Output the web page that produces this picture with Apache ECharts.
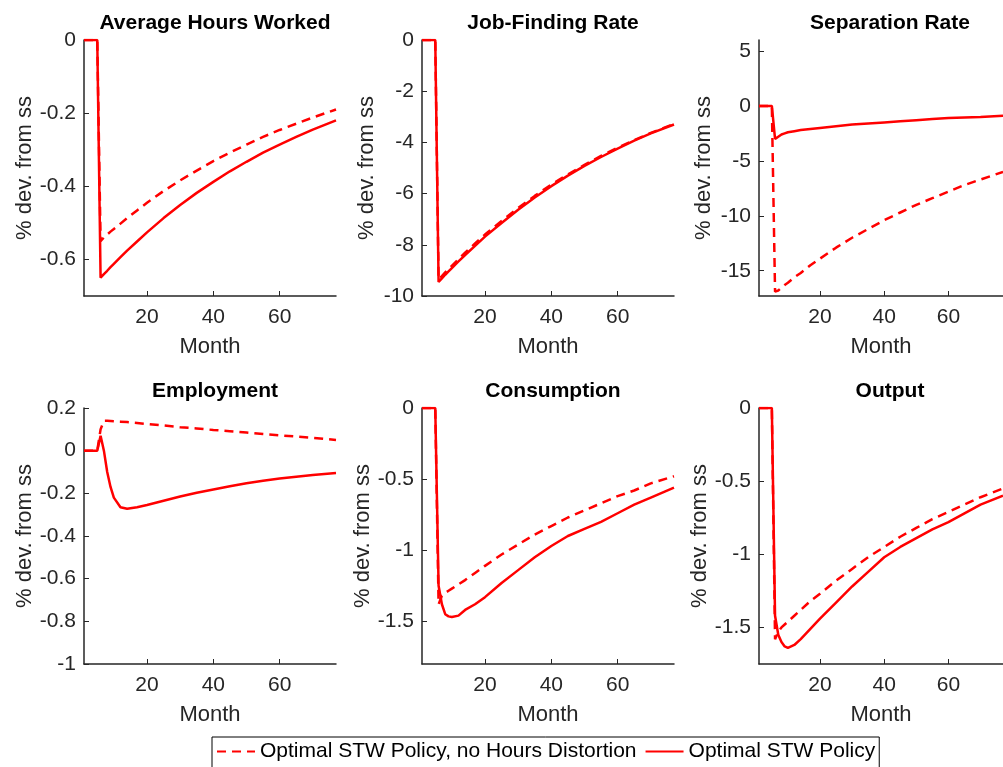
<!DOCTYPE html>
<html><head><meta charset="utf-8">
<script src="https://cdn.jsdelivr.net/npm/echarts@6/dist/echarts.min.js"></script>
<style>html,body{margin:0;padding:0;background:#fff}#c{width:1003px;height:767px}</style>
</head><body><div id="c"></div>
<script>
const months = [1,5,6,7,8,9,10,12,14,17,20,25,30,35,40,45,50,55,60,65,70,77];
const titles = ["Average Hours Worked","Job-Finding Rate","Separation Rate","Employment","Consumption","Output"];
const seriesNames = ["Optimal STW Policy, no Hours Distortion","Optimal STW Policy"];

const hoursSolid  = [0,0,-0.65,-0.640,-0.631,-0.621,-0.612,-0.594,-0.576,-0.551,-0.526,-0.487,-0.451,-0.418,-0.388,-0.359,-0.333,-0.308,-0.286,-0.265,-0.245,-0.220];
const hoursDashed = [0,0,-0.55,-0.540,-0.532,-0.524,-0.517,-0.502,-0.487,-0.466,-0.445,-0.413,-0.384,-0.357,-0.331,-0.308,-0.286,-0.265,-0.246,-0.229,-0.212,-0.190];
const jobSolid    = [0,0,-9.45,-9.31,-9.17,-9.04,-8.91,-8.65,-8.40,-8.04,-7.68,-7.15,-6.63,-6.15,-5.71,-5.30,-4.92,-4.57,-4.24,-3.93,-3.65,-3.30];
const jobDashed   = [0,0,-9.35,-9.22,-9.08,-8.95,-8.82,-8.56,-8.31,-7.95,-7.60,-7.07,-6.56,-6.09,-5.65,-5.25,-4.88,-4.53,-4.21,-3.91,-3.63,-3.28];
const sepSolid    = [0,0,-3.0,-2.8,-2.6,-2.5,-2.4,-2.3,-2.2,-2.1,-2.0,-1.85,-1.7,-1.6,-1.5,-1.4,-1.3,-1.2,-1.1,-1.05,-1.0,-0.9];
const sepDashed   = [0,0,-16.9,-16.8,-16.55,-16.3,-16.1,-15.6,-15.2,-14.5,-13.9,-12.9,-12.0,-11.2,-10.4,-9.7,-9.0,-8.4,-7.8,-7.2,-6.7,-6.0];
const empSolid    = [0,0,0.07,0.0,-0.10,-0.17,-0.22,-0.265,-0.272,-0.265,-0.255,-0.235,-0.215,-0.197,-0.182,-0.167,-0.153,-0.141,-0.131,-0.122,-0.114,-0.105];
const empDashed   = [0,0,0.10,0.14,0.140,0.139,0.138,0.136,0.134,0.130,0.125,0.118,0.110,0.104,0.097,0.091,0.085,0.078,0.072,0.066,0.060,0.050];
const consSolid   = [0,0,-1.25,-1.38,-1.45,-1.465,-1.47,-1.46,-1.42,-1.38,-1.33,-1.23,-1.14,-1.05,-0.97,-0.90,-0.85,-0.80,-0.74,-0.68,-0.63,-0.56];
const consDashed  = [0,0,-1.38,-1.32,-1.30,-1.285,-1.27,-1.24,-1.21,-1.16,-1.11,-1.03,-0.96,-0.89,-0.83,-0.77,-0.72,-0.67,-0.62,-0.58,-0.53,-0.48];
const outSolid    = [0,0,-1.42,-1.55,-1.60,-1.63,-1.64,-1.62,-1.58,-1.51,-1.44,-1.33,-1.22,-1.12,-1.02,-0.95,-0.89,-0.83,-0.78,-0.72,-0.66,-0.60];
const outDashed   = [0,0,-1.58,-1.53,-1.50,-1.48,-1.46,-1.42,-1.38,-1.32,-1.27,-1.18,-1.10,-1.02,-0.95,-0.88,-0.82,-0.76,-0.71,-0.66,-0.61,-0.55];

const solids  = [hoursSolid, jobSolid, sepSolid, empSolid, consSolid, outSolid];
const dashes  = [hoursDashed, jobDashed, sepDashed, empDashed, consDashed, outDashed];
const yMin = [-0.7,-10,-17.3,-1,-1.8,-1.75];
const yMax = [0,0,6,0.2,0,0];
const yTicks = [[-0.6,-0.4,-0.2,0],[-10,-8,-6,-4,-2,0],[-15,-10,-5,0,5],[-1,-0.8,-0.6,-0.4,-0.2,0,0.2],[-1.5,-1,-0.5,0],[-1.5,-1,-0.5,0]];
const xTicks = [20,40,60];

const lefts = [84,422,759], tops = [40,408];
const txt = '#262626', font = 'Liberation Sans';
const grid=[], xAxis=[], yAxis=[], series=[], title=[];
for (let i=0;i<6;i++){
  const c=i%3, r=Math.floor(i/3);
  grid.push({left:lefts[c], top:tops[r], width:252, height:256});
  title.push({text:titles[i], left:lefts[c]+126, top:tops[r]-32, textAlign:'center',
    textStyle:{fontFamily:font,fontSize:21,fontWeight:'bold',color:'#000'}});
  xAxis.push({type:'value', gridIndex:i, min:1, max:77, name:'Month', nameLocation:'middle', nameGap:40,
    nameTextStyle:{fontFamily:font,fontSize:22,color:txt},
    axisLine:{onZero:false,lineStyle:{color:txt,width:1.5}}, splitLine:{show:false},
    axisTick:{inside:true,length:5,customValues:xTicks,lineStyle:{color:txt}},
    axisLabel:{customValues:xTicks,fontFamily:font,fontSize:21,color:txt,margin:11}});
  yAxis.push({type:'value', gridIndex:i, min:yMin[i], max:yMax[i], name:'% dev. from ss', nameLocation:'middle', nameGap:44,
    nameTextStyle:{fontFamily:font,fontSize:22,color:txt},
    axisLine:{show:true,onZero:false,lineStyle:{color:txt,width:1.5}}, splitLine:{show:false},
    axisTick:{show:true,inside:true,length:5,customValues:yTicks[i],lineStyle:{color:txt}},
    axisLabel:{customValues:yTicks[i],fontFamily:font,fontSize:21,color:txt,margin:8}});
  const mk=arr=>arr.map((v,k)=>[months[k],v]);
  series.push({name:seriesNames[0], type:'line', xAxisIndex:i, yAxisIndex:i, data:mk(dashes[i]), showSymbol:false, symbol:'none',
    lineStyle:{color:'#ff0000',width:2.5,type:[9,6]}, itemStyle:{color:'#ff0000'}, z:2});
  series.push({name:seriesNames[1], type:'line', xAxisIndex:i, yAxisIndex:i, data:mk(solids[i]), showSymbol:false, symbol:'none',
    lineStyle:{color:'#ff0000',width:2.5,type:'solid'}, itemStyle:{color:'#ff0000'}, z:3});
}
const chart = echarts.init(document.getElementById('c'));
chart.setOption({
  animation:false, backgroundColor:'#fff', title, grid, xAxis, yAxis, series,
  legend:{data:seriesNames, left:212, top:737, width:760, orient:'horizontal', itemWidth:38, itemHeight:14, itemGap:8,
    padding:[4,4,8,4], borderColor:'#000', borderWidth:1, backgroundColor:'#fff',
    itemStyle:{opacity:0},
    textStyle:{fontFamily:font,fontSize:21,color:'#000'}}
});
</script></body></html>
